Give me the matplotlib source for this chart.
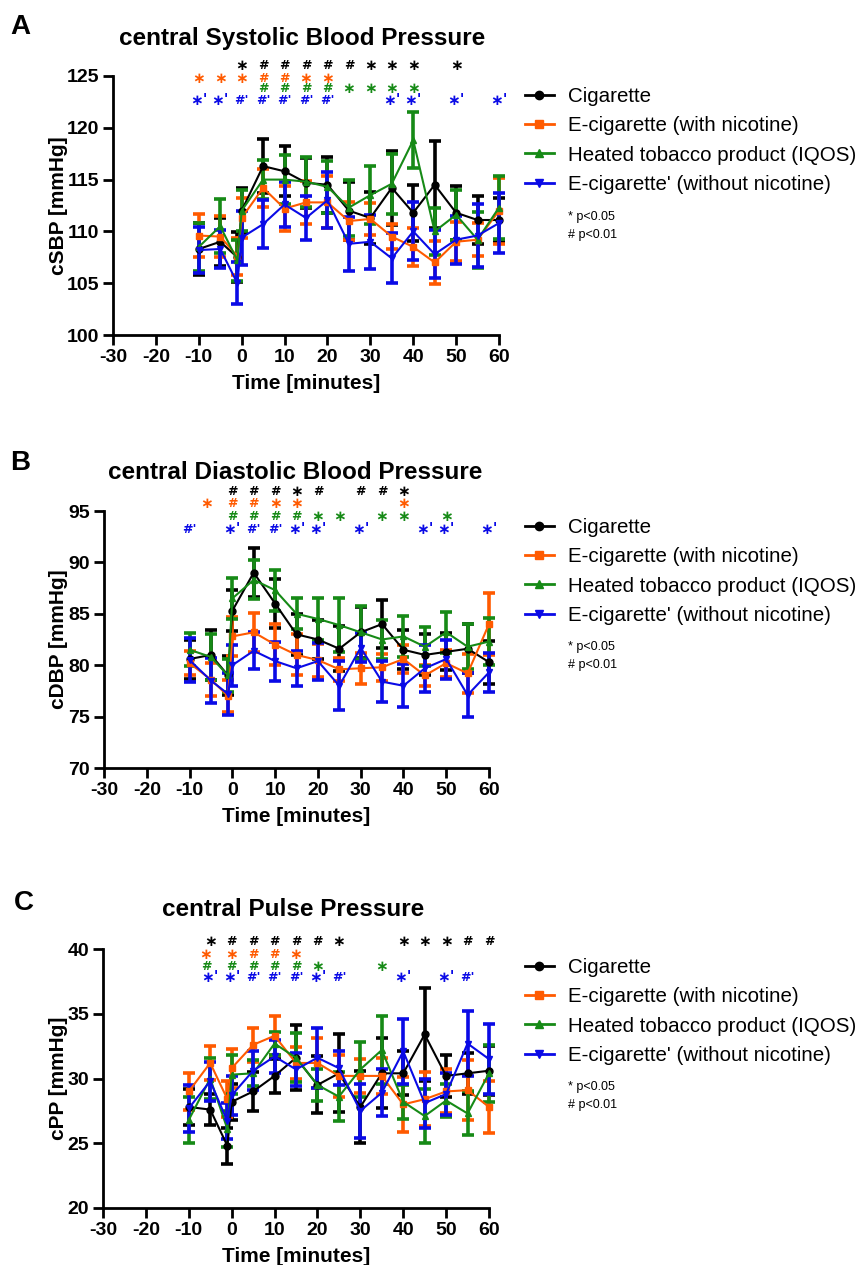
import matplotlib
matplotlib.use("Agg")
import matplotlib.pyplot as plt
from matplotlib.lines import Line2D

plt.rcParams["font.family"] = ["Liberation Sans", "DejaVu Sans"]
plt.rcParams["axes.unicode_minus"] = False

# -------------------------
# Data (mean and SEM)
# -------------------------
time = [-10, -5, -1, 0, 5, 10, 15, 20, 25, 30, 35, 40, 45, 50, 55, 60]

labels = ["Cigarette", "E-cigarette (with nicotine)",
          "Heated tobacco product (IQOS)", "E-cigarette' (without nicotine)"]
colors = ["#000000", "#FF5A00", "#168A16", "#0A0AE6"]
markers = ["o", "s", "^", "v"]

# central systolic BP
cig_sbp = [108.3, 109.0, 107.5, 112.0, 116.3, 115.8, 114.7, 114.5, 112.0, 111.3, 114.2, 111.8, 114.5, 111.8, 111.1, 111.1]
cig_sbp_err = [2.5, 2.3, 2.4, 2.2, 2.6, 2.4, 2.4, 2.7, 2.8, 2.5, 3.6, 2.7, 4.2, 2.6, 2.3, 2.1]
ecig_sbp = [109.6, 109.5, 107.6, 111.3, 114.2, 112.2, 112.8, 112.8, 111.0, 111.2, 109.5, 108.5, 107.0, 109.0, 109.2, 112.0]
ecig_sbp_err = [2.1, 2.0, 1.8, 1.9, 1.8, 2.2, 2.1, 2.5, 1.8, 1.5, 1.2, 1.8, 2.1, 1.9, 1.6, 3.2]
iqos_sbp = [108.5, 110.5, 107.2, 112.0, 115.0, 115.0, 114.8, 114.3, 112.3, 113.5, 114.6, 118.8, 110.0, 111.6, 109.2, 112.3]
iqos_sbp_err = [2.3, 2.6, 2.0, 2.0, 1.9, 2.4, 2.4, 2.5, 2.7, 2.8, 2.9, 2.7, 2.3, 2.4, 2.7, 3.0]
ecig0_sbp = [108.2, 108.3, 105.0, 109.4, 110.7, 112.6, 111.3, 113.0, 108.8, 109.0, 107.4, 110.0, 107.8, 109.2, 109.6, 110.8]
ecig0_sbp_err = [2.2, 1.8, 2.0, 2.6, 2.3, 2.2, 2.1, 2.7, 2.6, 2.6, 2.4, 2.8, 2.3, 2.3, 3.0, 2.9]

# central diastolic BP
cig_dbp = [80.6, 81.0, 79.0, 85.3, 89.0, 86.0, 83.0, 82.5, 81.6, 83.2, 84.0, 81.5, 81.0, 81.3, 81.6, 80.3]
cig_dbp_err = [1.9, 2.4, 1.9, 2.0, 2.4, 2.4, 2.0, 1.9, 2.2, 2.5, 2.3, 1.9, 2.0, 1.8, 2.4, 2.1]
ecig_dbp = [80.2, 78.6, 77.0, 82.8, 83.2, 82.0, 81.0, 80.5, 79.6, 79.7, 79.8, 80.6, 79.0, 80.2, 79.2, 84.0]
ecig_dbp_err = [1.2, 1.6, 1.6, 1.9, 1.9, 2.0, 2.0, 1.6, 1.1, 1.5, 1.3, 1.4, 1.0, 1.3, 1.9, 3.0]
iqos_dbp = [81.5, 80.8, 79.0, 86.5, 88.3, 87.3, 85.0, 84.5, 83.9, 83.2, 82.5, 82.8, 81.8, 83.2, 81.8, 82.3]
iqos_dbp_err = [1.6, 2.2, 1.6, 2.0, 1.9, 2.0, 1.5, 2.0, 2.6, 2.6, 1.9, 2.0, 1.9, 2.0, 2.2, 2.3]
ecig0_dbp = [80.5, 78.5, 77.2, 80.0, 81.4, 80.4, 79.7, 80.4, 78.0, 81.7, 78.4, 78.0, 79.7, 80.6, 77.1, 79.3]
ecig0_dbp_err = [2.1, 2.2, 2.0, 2.0, 1.8, 1.9, 1.7, 1.8, 2.4, 1.4, 2.0, 2.1, 2.3, 1.9, 2.1, 1.9]

# central pulse pressure
cig_pp = [27.8, 27.6, 24.8, 28.2, 29.0, 30.2, 31.6, 29.5, 30.4, 27.8, 30.4, 30.4, 33.4, 30.2, 30.4, 30.6]
cig_pp_err = [1.4, 1.2, 1.4, 1.4, 1.5, 1.3, 2.5, 2.2, 3.0, 2.8, 2.7, 1.7, 3.6, 1.6, 1.6, 1.9]
ecig_pp = [29.0, 31.2, 28.4, 30.8, 32.6, 33.3, 31.2, 31.2, 30.2, 30.2, 30.2, 28.0, 28.4, 29.0, 29.1, 27.8]
ecig_pp_err = [1.4, 1.3, 1.4, 1.5, 1.3, 1.5, 1.2, 1.9, 1.6, 1.3, 1.4, 2.1, 2.1, 1.7, 2.3, 2.0]
iqos_pp = [26.8, 30.0, 26.1, 30.3, 30.4, 32.7, 31.6, 29.5, 28.6, 30.7, 32.2, 28.2, 27.1, 28.3, 27.3, 30.4]
iqos_pp_err = [1.8, 1.6, 1.4, 1.5, 1.0, 0.9, 1.9, 1.2, 1.9, 2.1, 2.6, 1.3, 2.1, 1.3, 1.7, 2.2]
ecig0_pp = [27.7, 29.8, 26.7, 28.7, 30.6, 31.7, 30.7, 31.6, 30.8, 27.5, 28.9, 32.1, 28.1, 28.8, 32.7, 31.5]
ecig0_pp_err = [1.8, 1.5, 1.4, 1.5, 1.5, 1.3, 1.3, 2.3, 1.3, 2.1, 1.8, 2.5, 1.9, 1.6, 2.5, 2.7]

# significance marks per row (black, orange, green, blue): (time, symbol)
sig_sbp = [
    [(0, "*"), (5, "#"), (10, "#"), (15, "#"), (20, "#"), (25, "#"), (30, "*"), (35, "*"), (40, "*"), (50, "*")],
    [(-10, "*"), (-5, "*"), (0, "*"), (5, "#"), (10, "#"), (15, "*"), (20, "*")],
    [(5, "#"), (10, "#"), (15, "#"), (20, "#"), (25, "*"), (30, "*"), (35, "*"), (40, "*")],
    [(-10, "*'"), (-5, "*'"), (0, "#'"), (5, "#'"), (10, "#'"), (15, "#'"), (20, "#'"),
     (35, "*'"), (40, "*'"), (50, "*'"), (60, "*'")],
]
sig_dbp = [
    [(0, "#"), (5, "#"), (10, "#"), (15, "*"), (20, "#"), (30, "#"), (35, "#"), (40, "*")],
    [(-6, "*"), (0, "#"), (5, "#"), (10, "*"), (15, "*"), (40, "*")],
    [(0, "#"), (5, "#"), (10, "#"), (15, "#"), (20, "*"), (25, "*"), (35, "*"), (40, "*"), (50, "*")],
    [(-10, "#'"), (0, "*'"), (5, "#'"), (10, "#'"), (15, "*'"), (20, "*'"), (30, "*'"),
     (45, "*'"), (50, "*'"), (60, "*'")],
]
sig_pp = [
    [(-5, "*"), (0, "#"), (5, "#"), (10, "#"), (15, "#"), (20, "#"), (25, "*"),
     (40, "*"), (45, "*"), (50, "*"), (55, "#"), (60, "#")],
    [(-6, "*"), (0, "*"), (5, "#"), (10, "#"), (15, "*")],
    [(-6, "#"), (0, "#"), (5, "#"), (10, "#"), (15, "#"), (20, "*"), (35, "*")],
    [(-5, "*'"), (0, "*'"), (5, "#'"), (10, "#'"), (15, "#'"), (20, "*'"), (25, "#'"),
     (40, "*'"), (50, "*'"), (55, "#'")],
]

# -------------------------
# Layout helpers (pixel positions of the reference)
# -------------------------
W, H = 863, 1265


def box(left, top, right, bottom):
    return [left / W, 1 - bottom / H, (right - left) / W, (bottom - top) / H]


panels = [
    dict(letter="A", title="central Systolic Blood Pressure", ylabel="cSBP [mmHg]",
         rect=box(113, 76, 499, 335), ylim=(100, 125),
         series=[(cig_sbp, cig_sbp_err), (ecig_sbp, ecig_sbp_err),
                 (iqos_sbp, iqos_sbp_err), (ecig0_sbp, ecig0_sbp_err)],
         sig=sig_sbp, sig_y=[1.042, 0.992, 0.950, 0.907],
         letter_xy=(10, 27), title_xy=(302, 38), leg_top=87, p_y=217),
    dict(letter="B", title="central Diastolic Blood Pressure", ylabel="cDBP [mmHg]",
         rect=box(104, 511, 489, 768), ylim=(70, 95),
         series=[(cig_dbp, cig_dbp_err), (ecig_dbp, ecig_dbp_err),
                 (iqos_dbp, iqos_dbp_err), (ecig0_dbp, ecig0_dbp_err)],
         sig=sig_dbp, sig_y=[1.075, 1.030, 0.978, 0.929],
         letter_xy=(10, 463), title_xy=(295, 472), leg_top=518, p_y=647),
    dict(letter="C", title="central Pulse Pressure", ylabel="cPP [mmHg]",
         rect=box(103, 949, 489, 1208), ylim=(20, 40),
         series=[(cig_pp, cig_pp_err), (ecig_pp, ecig_pp_err),
                 (iqos_pp, iqos_pp_err), (ecig0_pp, ecig0_pp_err)],
         sig=sig_pp, sig_y=[1.028, 0.977, 0.932, 0.891],
         letter_xy=(14, 903), title_xy=(293, 910), leg_top=958, p_y=1087),
]

fig = plt.figure(figsize=(W / 100, H / 100), dpi=100)

for p in panels:
    ax = fig.add_axes(p["rect"])
    left_px, width_px = p["rect"][0] * W, p["rect"][2] * W
    for (vals, errs), c, m in zip(p["series"], colors, markers):
        ax.errorbar(time, vals, yerr=errs, color=c, marker=m, markersize=5,
                    linewidth=1.5, elinewidth=2.6, capsize=4, capthick=2.6,
                    clip_on=False)

    ax.set_xlim(-30, 60)
    ax.set_ylim(*p["ylim"])
    ax.set_xticks(range(-30, 61, 10))
    ax.set_yticks(range(p["ylim"][0], p["ylim"][1] + 1, 5))
    for side in ["top", "right"]:
        ax.spines[side].set_visible(False)
    for side in ["left", "bottom"]:
        ax.spines[side].set_linewidth(2)
    ax.tick_params(direction="out", length=7, width=2, labelsize=14, pad=3)
    for lab in ax.get_xticklabels() + ax.get_yticklabels():
        lab.set_fontweight("bold")

    ax.set_xlabel("Time [minutes]", fontsize=15, fontweight="bold")
    ax.set_ylabel(p["ylabel"], fontsize=15, fontweight="bold")
    ax.xaxis.set_label_coords(0.5, -0.15)
    ax.yaxis.set_label_coords((68 - left_px) / width_px, 0.5)

    # significance rows above the curves
    trans = ax.get_xaxis_transform()
    for row, c, yy in zip(p["sig"], colors, p["sig_y"]):
        for tx, sym in row:
            star = sym.startswith("*")
            ax.text(tx, yy, sym.replace("*", "\u2217"), color=c,
                    fontsize=11 if star else 9, fontweight="bold",
                    ha="center", va="center", transform=trans, clip_on=False,
                    family="DejaVu Sans")

    fig.text(p["letter_xy"][0] / W, 1 - p["letter_xy"][1] / H, p["letter"],
             fontsize=20, fontweight="bold", ha="left", va="center")
    fig.text(p["title_xy"][0] / W, 1 - p["title_xy"][1] / H, p["title"],
             fontsize=17.5, fontweight="bold", ha="center", va="center")

    handles = [Line2D([], [], color=c, marker=m, markersize=6, linewidth=2)
               for c, m in zip(colors, markers)]
    ax.legend(handles, labels, loc="upper left",
              bbox_to_anchor=(525 / W, 1 - p["leg_top"] / H),
              bbox_transform=fig.transFigure, frameon=False, fontsize=14.8,
              handlelength=1.4, handletextpad=0.7, labelspacing=0.5,
              borderpad=0, borderaxespad=0)
    fig.text(568 / W, 1 - p["p_y"] / H, "* p<0.05", fontsize=9, va="center")
    fig.text(568 / W, 1 - (p["p_y"] + 18) / H, "# p<0.01", fontsize=9, va="center")

fig.savefig("out.png", dpi=100)
